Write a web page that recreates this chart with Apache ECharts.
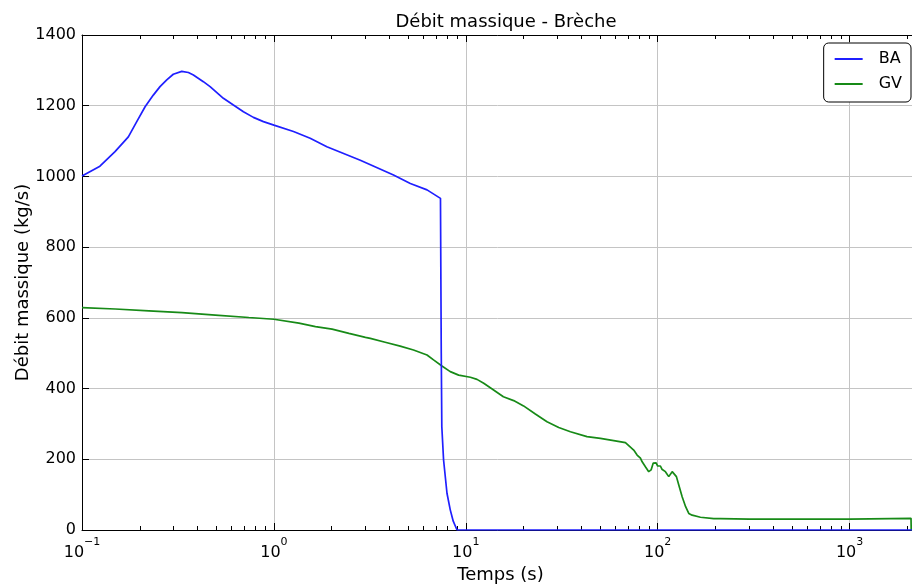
<!DOCTYPE html>
<html>
<head>
<meta charset="utf-8">
<script src="https://cdn.jsdelivr.net/npm/echarts@6/dist/echarts.min.js"></script>
<style>
html,body{margin:0;padding:0;background:#fff;}
#chart{width:912px;height:585px;}
</style>
</head>
<body>
<div id="chart"></div>
<script>
// ---- data ----
const baTimes  = [0.1, 0.124, 0.1486, 0.1744, 0.1929, 0.2132, 0.2353, 0.255, 0.2765, 0.299, 0.331, 0.3584, 0.3806, 0.429, 0.465, 0.5455, 0.615, 0.6938, 0.782, 0.882, 1.0, 1.265, 1.545, 1.888, 2.82, 4.2, 5.14, 6.28, 7.38, 7.45, 7.5, 7.66, 7.98, 8.3, 8.6, 9.0, 2300];
const baValues = [1001, 1029, 1070, 1112, 1155, 1197, 1230, 1254, 1273, 1289, 1297, 1294, 1287, 1268, 1254, 1221, 1202, 1183, 1167, 1155, 1145, 1127, 1108, 1084, 1046, 1004, 980, 962, 938, 500, 292, 198, 104, 57, 25, 0, 0];

const gvTimes  = [0.1, 0.149, 0.223, 0.332, 0.495, 0.740, 1.0, 1.35, 1.647, 2.01, 2.46, 3.00, 3.18, 3.80, 4.55, 5.34, 6.28, 6.79, 7.51, 8.30, 9.18, 10.56, 11.44, 12.4, 13.96, 15.7, 17.76, 20.0, 23.04, 26.5, 30.5, 35.1, 42.8, 50.3, 59.0, 67.9, 69.3, 75, 78.1, 81.3, 83.0, 86.3, 89.8, 92.4, 94.7, 96.2, 98.1, 100, 103.3, 105.2, 109.7, 114.2, 116.4, 119, 121.3, 125.2, 128.8, 134.1, 139.8, 145.2, 151.2, 167, 196, 212, 300, 1000, 2090, 2095, 2300];
const gvValues = [629, 625, 620, 615, 608, 601, 596, 585, 575, 568, 556, 545, 542, 531, 520, 509, 495, 481, 464, 448, 438, 432, 426, 415, 396, 377, 366, 351, 328, 306, 290, 278, 264, 259, 253, 247, 245, 226, 212, 203, 193, 179, 165, 170, 189, 184, 190, 181, 181, 172, 165, 151, 149, 165, 160, 151, 127, 94, 66, 47, 42, 36, 32, 32, 31, 31, 33, 0, 0];

const seriesNames = ['BA', 'GV'];
const xMajorTicks = [0.1, 1, 10, 100, 1000];
const xMinorTicks = [0.2,0.3,0.4,0.5,0.6,0.7,0.8,0.9, 2,3,4,5,6,7,8,9, 20,30,40,50,60,70,80,90, 200,300,400,500,600,700,800,900, 2000];
const xTickExponents = {0.1: '−1', 1: '0', 10: '1', 100: '2', 1000: '3'};
const yTicks = [0, 200, 400, 600, 800, 1000, 1200, 1400];

const titleText = 'Débit massique - Brèche';
const xName = 'Temps (s)';
const yName = 'Débit massique (kg/s)';

const X_MIN = 0.1, X_MAX = 2300;
const FONT = 'DejaVu Sans';

const chart = echarts.init(document.getElementById('chart'), null, {renderer: 'canvas'});

const zip = (a, b) => a.map((v, i) => [v, b[i]]);

function xLabel(v) {
  for (const k of xMajorTicks) {
    if (Math.abs(Math.log10(v) - Math.log10(k)) < 1e-6) {
      return '{b|10}{s|' + xTickExponents[k] + '}';
    }
  }
  return '';
}

const baseX = {
  type: 'log', logBase: 10, min: X_MIN, max: X_MAX, gridIndex: 0
};

const option = {
  animation: false,
  backgroundColor: '#fff',
  textStyle: {fontFamily: FONT},
  title: {
    text: titleText, left: 501, top: 8, textAlign: 'center',
    textStyle: {fontFamily: FONT, fontSize: 18, fontWeight: 'normal', color: '#000'}
  },
  legend: {
    data: seriesNames, orient: 'vertical', right: 1, top: 43,
    icon: 'rect', itemWidth: 28, itemHeight: 2, itemGap: 5,
    padding: [6, 9, 8, 11],
    borderColor: '#000', borderWidth: 1, borderRadius: 5, backgroundColor: '#fff',
    textStyle: {fontFamily: FONT, fontSize: 16, color: '#000', lineHeight: 20, padding: [0, 0, 0, 11]}
  },
  grid: {left: 82, top: 35, width: 837, height: 495, containLabel: false, outerBoundsMode: 'none'},
  xAxis: [
    Object.assign({}, baseX, {
      position: 'bottom',
      name: xName, nameLocation: 'middle', nameGap: 36, nameMoveOverlap: false,
      nameTextStyle: {fontFamily: FONT, fontSize: 18, color: '#000'},
      axisLine: {show: true, onZero: false, lineStyle: {color: '#000', width: 1}},
      axisTick: {show: true, inside: true, length: 7, customValues: xMajorTicks, lineStyle: {color: '#000'}},
      axisLabel: {
        show: true, margin: 7, customValues: xMajorTicks, formatter: xLabel,
        rich: {
          b: {fontFamily: FONT, fontSize: 16, color: '#000', lineHeight: 24, verticalAlign: 'bottom'},
          s: {fontFamily: FONT, fontSize: 11, color: '#000', lineHeight: 10, verticalAlign: 'top'}
        }
      },
      splitLine: {show: true, lineStyle: {color: '#c4c4c4', width: 1}},
      minorTick: {show: false}
    }),
    Object.assign({}, baseX, {
      position: 'bottom',
      axisLine: {show: false, onZero: false},
      axisTick: {show: true, inside: true, length: 4, customValues: xMinorTicks, lineStyle: {color: '#000'}},
      axisLabel: {show: false},
      splitLine: {show: false}
    }),
    Object.assign({}, baseX, {
      position: 'top',
      axisLine: {show: true, onZero: false, lineStyle: {color: '#000', width: 1}},
      axisTick: {show: true, inside: true, length: 7, customValues: xMajorTicks, lineStyle: {color: '#000'}},
      axisLabel: {show: false},
      splitLine: {show: false}
    }),
    Object.assign({}, baseX, {
      position: 'top',
      axisLine: {show: false, onZero: false},
      axisTick: {show: true, inside: true, length: 4, customValues: xMinorTicks, lineStyle: {color: '#000'}},
      axisLabel: {show: false},
      splitLine: {show: false}
    })
  ],
  yAxis: [{
    type: 'value', min: yTicks[0], max: yTicks[yTicks.length - 1], interval: 200,
    name: yName, nameLocation: 'middle', nameGap: 50, nameRotate: 90, nameMoveOverlap: false,
    nameTextStyle: {fontFamily: FONT, fontSize: 18, color: '#000'},
    axisLine: {show: true, onZero: false, lineStyle: {color: '#000', width: 1}},
    axisTick: {show: true, inside: true, length: 7, lineStyle: {color: '#000'}},
    axisLabel: {fontFamily: FONT, fontSize: 16, color: '#000', margin: 6, formatter: v => String(v)},
    splitLine: {show: true, lineStyle: {color: '#c4c4c4', width: 1}}
  }],
  series: [
    {
      name: seriesNames[0], type: 'line', xAxisIndex: 0, yAxisIndex: 0,
      data: zip(baTimes, baValues), showSymbol: false, symbol: 'none',
      lineStyle: {color: '#1f1fff', width: 1.7}, itemStyle: {color: '#1f1fff'},
      z: 3
    },
    {
      name: seriesNames[1], type: 'line', xAxisIndex: 0, yAxisIndex: 0,
      data: zip(gvTimes, gvValues), showSymbol: false, symbol: 'none',
      lineStyle: {color: '#178a17', width: 1.7}, itemStyle: {color: '#178a17'},
      z: 2
    }
  ]
};

chart.setOption(option);
</script>
</body>
</html>
